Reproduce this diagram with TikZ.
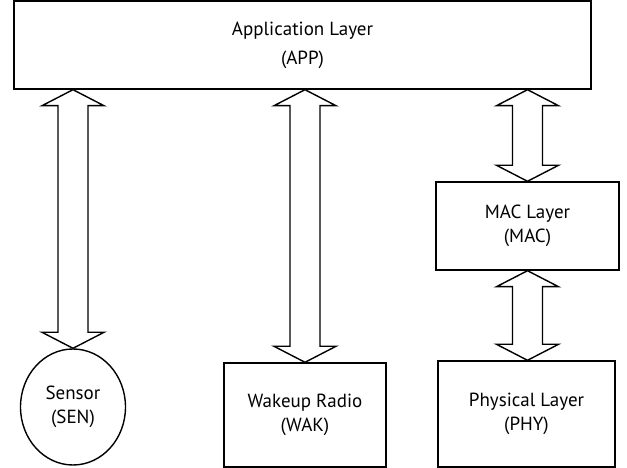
\documentclass[tikz,border=0pt]{standalone}
\usepackage{fontspec}
\setmainfont{PT Sans}
\usetikzlibrary{shapes.geometric,calc}

% hollow double-headed block arrow between two points on one vertical
\newcommand{\BlockArrow}[2]{%
  \draw[blockarrow] let \p1=(#1), \p2=(#2) in
    (\x1,\y1) -- (\x1+31pt,\y1-16pt) -- (\x1+15pt,\y1-16pt) -- (\x1+15pt,\y2+16pt)
    -- (\x1+31pt,\y2+16pt) -- (\x1,\y2) -- (\x1-31pt,\y2+16pt) -- (\x1-15pt,\y2+16pt)
    -- (\x1-15pt,\y1-16pt) -- (\x1-31pt,\y1-16pt) -- cycle;}

\begin{document}
\begin{tikzpicture}[x=1pt,y=1pt,
    layer/.style={draw,line width=1.4pt,align=center,inner sep=0pt,
      font=\fontsize{19}{24}\selectfont},
    blockarrow/.style={draw,line width=1.4pt,fill=white,line join=miter}]
\useasboundingbox (0,0) rectangle (627,468);
    \node[layer,minimum width=577,minimum height=88,
      font=\fontsize{19}{29}\selectfont] (APP) at (302.5,423) {Application Layer\\(APP)};
    \node[layer,minimum width=183,minimum height=88] (MAC) at (527.5,242) {MAC Layer\\(MAC)};
    \node[layer,ellipse,minimum width=105,minimum height=116] (SEN) at (73,61) {Sensor\\(SEN)};
    \node[layer,minimum width=162,minimum height=104] (WAK) at (305,53) {Wakeup Radio\\(WAK)};
    \node[layer,minimum width=177,minimum height=106] (PHY) at (526.5,54) {Physical Layer\\(PHY)};
    \BlockArrow{APP.south -| SEN.north}{SEN.north}
    \BlockArrow{APP.south -| WAK.north}{WAK.north}
    \BlockArrow{APP.south -| MAC.north}{MAC.north}
    \BlockArrow{MAC.south}{MAC.south |- PHY.north}
\end{tikzpicture}
\end{document}
